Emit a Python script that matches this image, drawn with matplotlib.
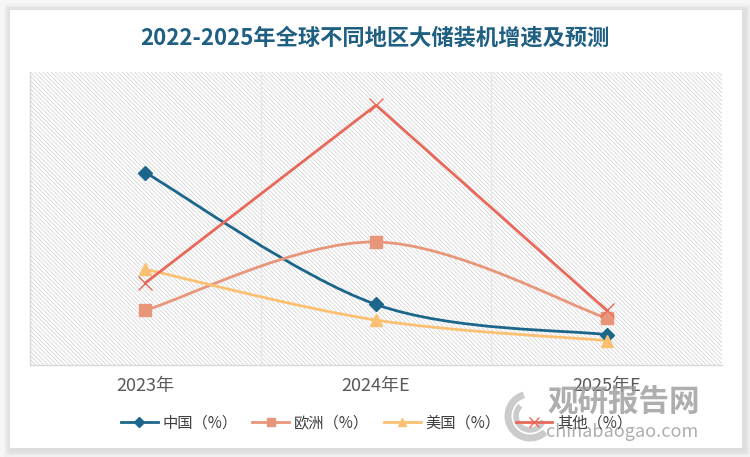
import matplotlib
matplotlib.use("Agg")
import matplotlib.pyplot as plt
from matplotlib.path import Path
from matplotlib.patches import PathPatch, Rectangle, Arc
from matplotlib.lines import Line2D
import numpy as np

plt.rcParams['font.family'] = ['Noto Sans CJK SC', 'DejaVu Sans']

# ---- data ----
categories = ["2023年", "2024年E", "2025年E"]
china = [197, 62, 31]
europe = [56, 126, 48]
usa = [98, 46, 25]
other = [84, 266, 56]
series_names = ["中国（%）", "欧洲（%）", "美国（%）", "其他（%）"]
title = "2022-2025年全球不同地区大储装机增速及预测"

colors = ["#1b668a", "#e8967a", "#fcc073", "#e8685a"]
markers = ["D", "s", "^", "x"]
smooth = [True, True, True, False]

W, H = 750, 457
fig = plt.figure(figsize=(W / 100, H / 100), dpi=100)
fig.patch.set_facecolor("#ffffff")


def px_rect(x0, y0, x1, y1, **kw):
    return Rectangle((x0 / W, 1 - y1 / H), (x1 - x0) / W, (y1 - y0) / H,
                     transform=fig.transFigure, **kw)

# card shadow + white card
fig.patches.append(px_rect(0, 0, W, H, facecolor="#f6f6f6", edgecolor="none", zorder=-10))
for i, c in enumerate(["#f0f0f0", "#eaeaea", "#e4e4e4", "#dedede"]):
    d = 7 - i * 1.7
    fig.patches.append(px_rect(10 - d + 1, 10 - d + 1, 742 + d + 2, 448 + d + 2,
                               facecolor=c, edgecolor="none", zorder=-9 + i))
fig.patches.append(px_rect(10, 10, 742, 448, facecolor="white", edgecolor="none", zorder=-4))

ax = fig.add_axes([30 / W, 1 - 365 / H, (722 - 30) / W, (365 - 72) / H])
ax.set_facecolor("none")
plt.rcParams['hatch.linewidth'] = 0.55
bg = Rectangle((0, 0), 1, 1, transform=ax.transAxes, facecolor="white",
               edgecolor="#d2d2d2", hatch="\\" * 8, linewidth=0, zorder=0)
ax.add_patch(bg)

x = np.arange(len(categories))
ax.set_xlim(-0.5, len(categories) - 0.5)
ax.set_ylim(0, 300)


def bezier_path(xs, ys):
    pts = np.column_stack([xs, ys]).astype(float)
    n = len(pts)
    verts = [pts[0]]
    codes = [Path.MOVETO]
    for i in range(n - 1):
        p0 = pts[i - 1] if i > 0 else pts[i]
        p1 = pts[i]
        p2 = pts[i + 1]
        p3 = pts[i + 2] if i + 2 < n else pts[i + 1]
        c1 = p1 + (p2 - p0) / 6.0
        c2 = p2 - (p3 - p1) / 6.0
        verts += [c1, c2, p2]
        codes += [Path.CURVE4] * 3
    return Path(verts, codes)


data = [china, europe, usa, other]
handles = []
for vals, col, mk, sm, name in zip(data, colors, markers, smooth, series_names):
    if sm:
        ax.add_patch(PathPatch(bezier_path(x, vals), facecolor="none", edgecolor=col,
                               linewidth=2.0, zorder=3, capstyle="round"))
    else:
        ax.plot(x, vals, color=col, linewidth=2.0, zorder=3)
    if mk == "x":
        ax.plot(x, vals, linestyle="none", marker=mk, markersize=10, markeredgewidth=1.0,
                color=col, zorder=4)
        h = Line2D([], [], color=col, linewidth=2.0, marker=mk, markersize=7,
                   markeredgewidth=1.0)
    else:
        ms = 7 if mk == "D" else 8
        ax.plot(x, vals, linestyle="none", marker=mk, markersize=ms, color=col,
                markeredgecolor=col, zorder=4)
        h = Line2D([], [], color=col, linewidth=2.0, marker=mk, markersize=ms - 2,
                   markeredgecolor=col)
    handles.append(h)

# vertical grid lines between categories
for gx in [0.5, 1.5]:
    ax.axvline(gx, color="#e6e6e6", linewidth=0.8, zorder=1)

ax.set_xticks(x)
ax.set_xticklabels(categories, fontsize=13, color="#595959")
ax.tick_params(axis="x", length=0, pad=9)
ax.set_yticks([])
for s in ["top", "right"]:
    ax.spines[s].set_visible(False)
for s in ["left", "bottom"]:
    ax.spines[s].set_color("#d9d9d9")
    ax.spines[s].set_linewidth(1.0)

fig.text(0.5, 1 - 38 / H, title, ha="center", va="center", fontsize=16,
         fontweight="bold", color="#1f5f82")

leg = fig.legend(handles, series_names, loc="center", bbox_to_anchor=(0.502, 1 - 423 / H),
                 ncol=4, frameon=False, fontsize=11, handlelength=2.4,
                 columnspacing=1.0, handletextpad=0.3, labelcolor="#404040")

# watermark
wm = "#9a9a9a"
fig.text(624 / W, 1 - 402 / H, "观研报告网", ha="center", va="center", fontsize=22,
         fontweight="bold", color=wm, alpha=0.8)
fig.text(622 / W, 1 - 432 / H, "chinabaogao.com", ha="center", va="center", fontsize=13,
         color=wm, alpha=0.8)
for (r, t1, t2, lw) in [(22, 100, 300, 5), (14, 120, 330, 4)]:
    arc = Arc((530 / W, 1 - 416 / H), 2 * r / W, 2 * r / H, theta1=t1, theta2=t2,
              transform=fig.transFigure, color="#b5b5b5", linewidth=lw, alpha=0.7)
    fig.patches.append(arc)

fig.savefig("out.png", dpi=100, facecolor=fig.get_facecolor())
